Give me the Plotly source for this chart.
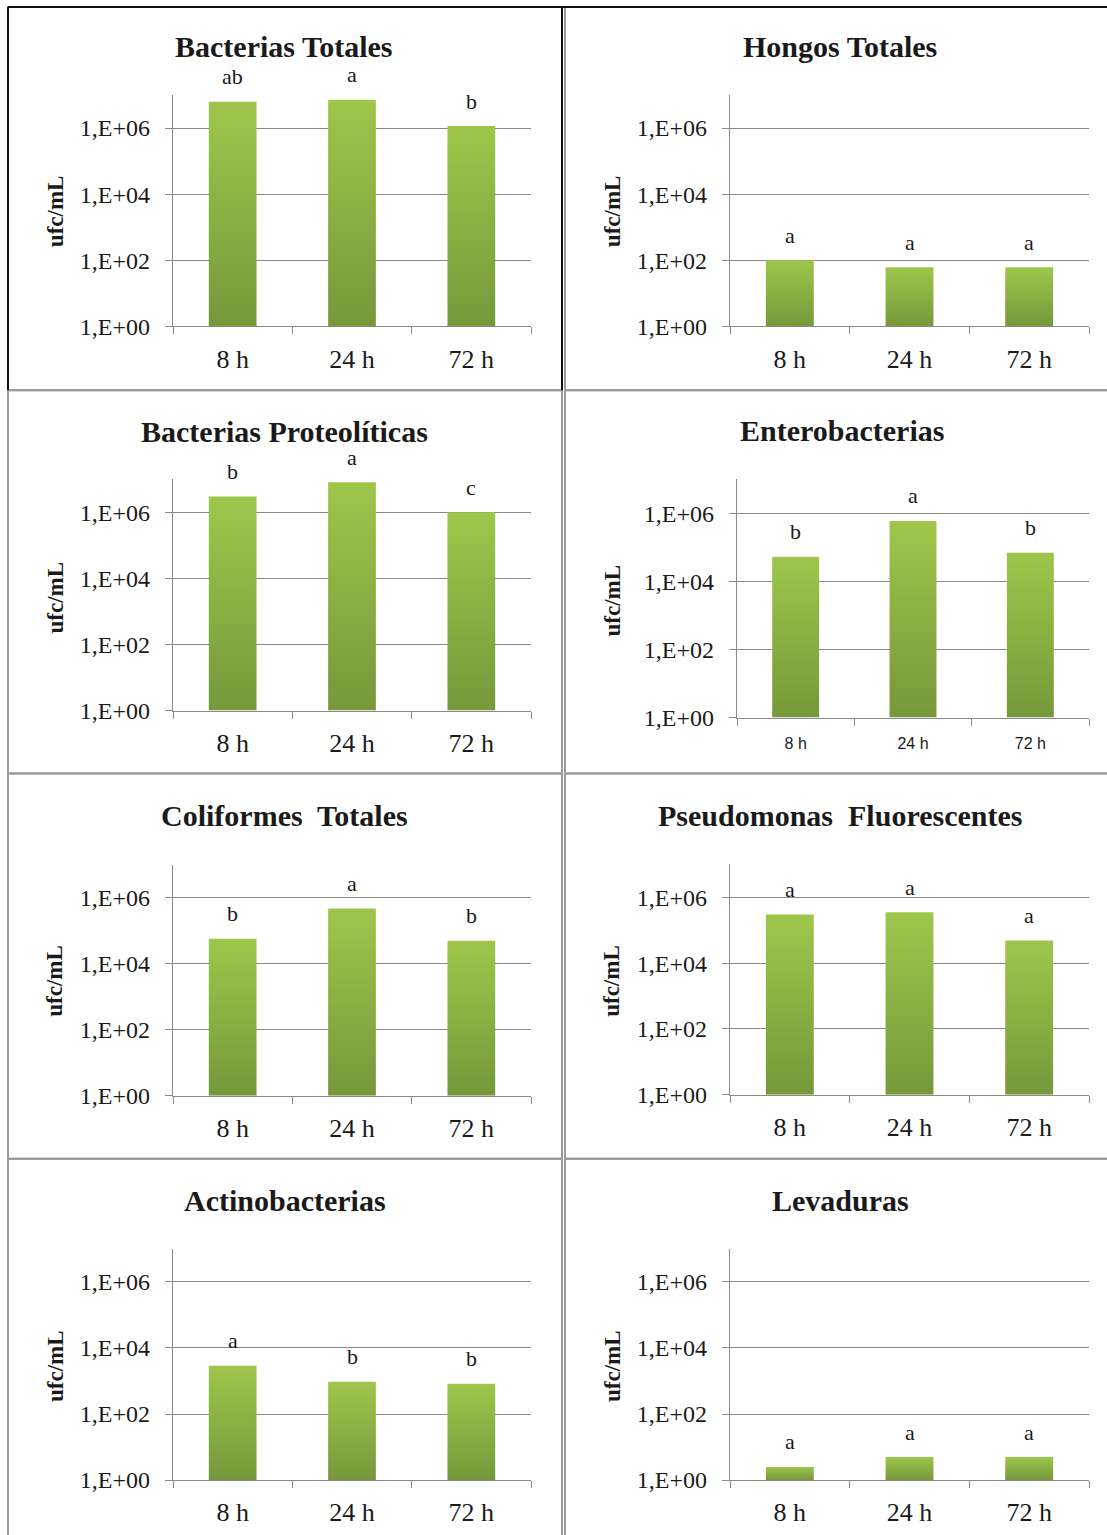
import math
import plotly.graph_objects as go

# ---- data -------------------------------------------------------------
categories = ["8 h", "24 h", "72 h"]

titles = [
    "Bacterias Totales", "Hongos Totales",
    "Bacterias Proteolíticas", "Enterobacterias",
    "Coliformes  Totales", "Pseudomonas  Fluorescentes",
    "Actinobacterias", "Levaduras",
]

bacterias_totales = [6.3e6, 7.2e6, 1.15e6]
hongos_totales = [100, 61, 61]
bacterias_proteoliticas = [3.0e6, 8.1e6, 1.0e6]
enterobacterias = [5.3e4, 6.0e5, 7.0e4]
coliformes_totales = [5.7e4, 4.7e5, 5.0e4]
pseudomonas_fluorescentes = [3.0e5, 3.5e5, 4.9e4]
actinobacterias = [2.9e3, 950, 830]
levaduras = [2.5, 5.0, 5.0]

letters_bacterias_totales = ["ab", "a", "b"]
letters_hongos_totales = ["a", "a", "a"]
letters_bacterias_proteoliticas = ["b", "a", "c"]
letters_enterobacterias = ["b", "a", "b"]
letters_coliformes_totales = ["b", "a", "b"]
letters_pseudomonas_fluorescentes = ["a", "a", "a"]
letters_actinobacterias = ["a", "b", "b"]
letters_levaduras = ["a", "a", "a"]

ytick_vals = [1, 1e2, 1e4, 1e6]
ytick_text = ["1,E+00", "1,E+02", "1,E+04", "1,E+06"]
y_label = "ufc/mL"

series = [
    bacterias_totales, hongos_totales,
    bacterias_proteoliticas, enterobacterias,
    coliformes_totales, pseudomonas_fluorescentes,
    actinobacterias, levaduras,
]
letters = [
    letters_bacterias_totales, letters_hongos_totales,
    letters_bacterias_proteoliticas, letters_enterobacterias,
    letters_coliformes_totales, letters_pseudomonas_fluorescentes,
    letters_actinobacterias, letters_levaduras,
]

# ---- page geometry (pixels) --------------------------------------------
W, H = 1107, 1535
VSCALE = 0.9908   # vertical layout coordinates are laid out on a 1549 px grid
DECADES = 7       # log axis runs from 1E+00 to 1E+07


def px_y(y):
    """Vertical pixel position -> paper coordinate."""
    return 1 - (y / VSCALE) / H


# per panel: axis left, axis right, y of 1E+00, pixels per decade,
# title centre (x, y), y-label centre (x, y)
panels = [
    dict(x0=173, x1=531, yb=326, dec=33.0, tx=284, ty=46, lx=55, ly=211),
    dict(x0=730, x1=1089, yb=326, dec=33.0, tx=840, ty=46, lx=612, ly=211),
    dict(x0=173, x1=531, yb=710, dec=33.0, tx=284, ty=431, lx=55, ly=597),
    dict(x0=737, x1=1089, yb=717, dec=34.0, tx=842, ty=430, lx=612, ly=600),
    dict(x0=173, x1=531, yb=1095, dec=33.0, tx=284, ty=815, lx=55, ly=980),
    dict(x0=730, x1=1089, yb=1094, dec=32.9, tx=840, ty=815, lx=612, ly=980),
    dict(x0=173, x1=531, yb=1479, dec=33.0, tx=285, ty=1200, lx=55, ly=1365),
    dict(x0=730, x1=1089, yb=1479, dec=33.0, tx=840, ty=1200, lx=612, ly=1365),
]

GRID = "#8a8a8a"
TEXT = "#1a1a1a"
SERIF = "Liberation Serif, Times New Roman, serif"
SANS = "Liberation Sans, Arial, sans-serif"
BAR_DARK = "#76983a"
BAR_LIGHT = "#9ec64b"
HALF_W = 0.2

fig = go.Figure()
annotations = []
layout_axes = {}

for n, (p, vals, lets, title) in enumerate(zip(panels, series, letters, titles), start=1):
    xa = "x" if n == 1 else f"x{n}"
    ya = "y" if n == 1 else f"y{n}"
    xkey = "xaxis" if n == 1 else f"xaxis{n}"
    ykey = "yaxis" if n == 1 else f"yaxis{n}"

    ytop = p["yb"] - DECADES * p["dec"]
    x_dom = [p["x0"] / W, p["x1"] / W]
    y_dom = [px_y(p["yb"]), px_y(ytop)]

    sans_ticks = (n == 4)
    layout_axes[xkey] = dict(
        domain=x_dom, anchor=ya, range=[-0.5, len(categories) - 0.5],
        tickmode="array", tickvals=list(range(len(categories))), ticktext=categories,
        ticks="", showgrid=False, zeroline=False,
        showline=True, linecolor=GRID, linewidth=1.3,
        tickfont=dict(family=SANS if sans_ticks else SERIF,
                      size=16 if sans_ticks else 26, color=TEXT),
        ticklabelstandoff=11 if sans_ticks else 9,
        minor=dict(tickmode="linear", tick0=-0.5, dtick=1, ticks="outside",
                   ticklen=7, tickcolor=GRID, tickwidth=1.3, showgrid=False),
        fixedrange=True,
    )
    layout_axes[ykey] = dict(
        domain=y_dom, anchor=xa, type="log", range=[0, DECADES],
        tickmode="array", tickvals=ytick_vals, ticktext=ytick_text,
        ticks="outside", ticklen=7, tickcolor=GRID, tickwidth=1.3,
        showgrid=True, gridcolor=GRID, gridwidth=1.3, zeroline=False,
        showline=True, linecolor=GRID, linewidth=1.3,
        tickfont=dict(family=SERIF, size=24, color=TEXT),
        ticklabelstandoff=10, fixedrange=True,
    )

    # bars drawn as filled outlines so each one carries a vertical gradient
    for i, v in enumerate(vals):
        fig.add_trace(go.Scatter(
            x=[i - HALF_W, i - HALF_W, i + HALF_W, i + HALF_W, i - HALF_W],
            y=[1, v, v, 1, 1],
            xaxis=xa, yaxis=ya, mode="lines", fill="toself",
            line=dict(width=0, color=BAR_LIGHT),
            fillgradient=dict(type="vertical",
                              colorscale=[[0, BAR_DARK], [1, BAR_LIGHT]]),
            showlegend=False, hoverinfo="skip",
        ))
        annotations.append(dict(
            x=i, y=math.log10(v), xref=xa, yref=ya, text=lets[i],
            showarrow=False, yanchor="middle", yshift=25,
            font=dict(family=SERIF, size=22, color=TEXT),
        ))

    annotations.append(dict(
        x=p["tx"] / W, y=px_y(p["ty"]), xref="paper", yref="paper",
        text=f"<b>{title}</b>", showarrow=False,
        xanchor="center", yanchor="middle",
        font=dict(family=SERIF, size=30, color=TEXT),
    ))
    annotations.append(dict(
        x=p["lx"] / W, y=px_y(p["ly"]), xref="paper", yref="paper",
        text=f"<b>{y_label}</b>", showarrow=False, textangle=-90,
        xanchor="center", yanchor="middle",
        font=dict(family=SERIF, size=23, color=TEXT),
    ))

# panel frames
shapes = []
col_edges = [(8, 562), (565, 1110)]
row_edges = [(7, 390), (390, 773), (773, 1158), (1158, 1560)]
for r, (t, b) in enumerate(row_edges):
    for c, (l, rgt) in enumerate(col_edges):
        shapes.append(dict(
            type="rect", xref="paper", yref="paper",
            x0=l / W, x1=rgt / W, y0=px_y(b), y1=px_y(t),
            line=dict(color="#9a9a9a", width=2), fillcolor="rgba(0,0,0,0)",
            layer="below",
        ))
# darker outline along the top row
dark = dict(color="#111111", width=2)
for (xa0, ya0, xa1, ya1) in [(8, 7, 1107, 7), (8, 7, 8, 390), (562, 7, 562, 390)]:
    shapes.append(dict(type="line", xref="paper", yref="paper",
                       x0=xa0 / W, x1=xa1 / W, y0=px_y(ya0), y1=px_y(ya1),
                       line=dark))

fig.update_layout(
    width=W, height=H, autosize=False,
    margin=dict(l=0, r=0, t=0, b=0),
    paper_bgcolor="white", plot_bgcolor="rgba(0,0,0,0)",
    showlegend=False, annotations=annotations, shapes=shapes,
    **layout_axes,
)

fig.write_html("out.html")
